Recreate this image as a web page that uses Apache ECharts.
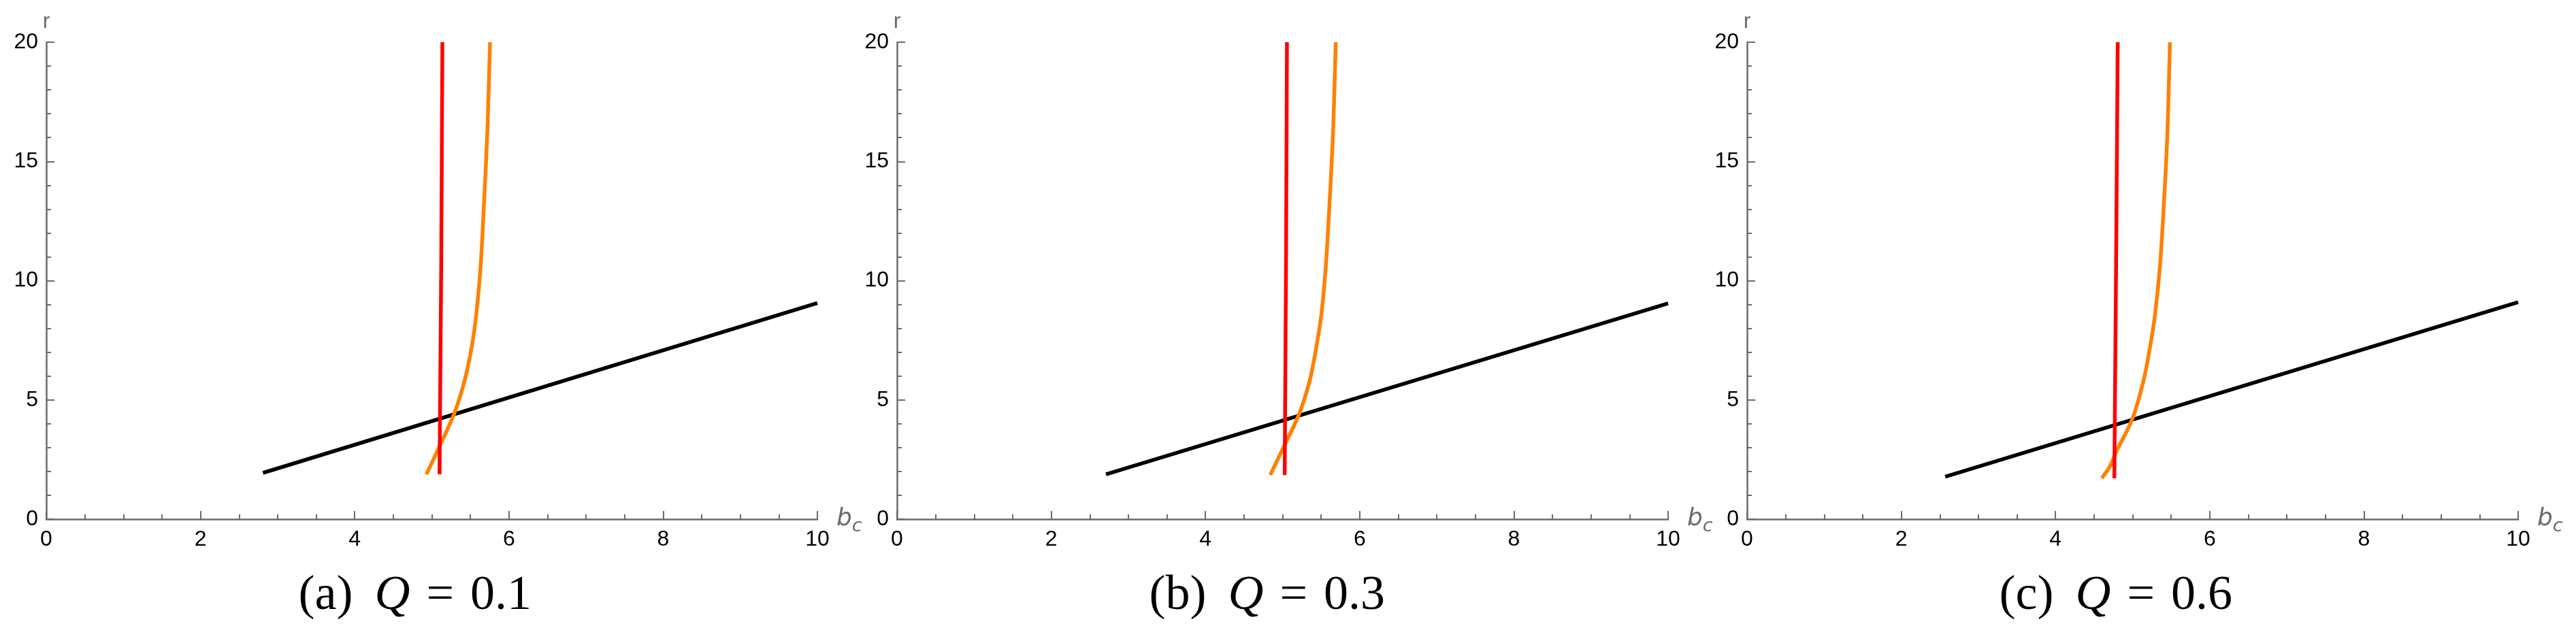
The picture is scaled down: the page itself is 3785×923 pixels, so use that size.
<!DOCTYPE html>
<html>
<head>
<meta charset="utf-8">
<script src="https://cdn.jsdelivr.net/npm/echarts@6/dist/echarts.min.js"></script>
<style>
html,body{margin:0;padding:0;background:#fff;}
#chart{width:3785px;height:923px;}
</style>
</head>
<body>
<div id="chart"></div>
<script>
// ---- data ----
const panelTags = ['(a)', '(b)', '(c)'];
const qValues = ['0.1', '0.3', '0.6'];
const xTickLabels = ['0', '2', '4', '6', '8', '10'];
const yTickLabels = ['0', '5', '10', '15', '20'];

// black curve (b_c, r)
const blackB_a = [2.81, 10.0];
const blackR_a = [1.94, 9.06];
const blackB_b = [2.71, 10.0];
const blackR_b = [1.88, 9.05];
const blackB_c = [2.57, 10.0];
const blackR_c = [1.78, 9.10];

// red curve
const redB_a = [5.10, 5.122, 5.137];
const redR_a = [1.88, 10.7, 20];
const redB_b = [5.028, 5.045, 5.057];
const redR_b = [1.85, 10.7, 20];
const redB_c = [4.763, 4.786, 4.807];
const redR_c = [1.71, 10.7, 20];

// orange curve
const orangeB_a = [4.93, 5.107, 5.225, 5.313, 5.43, 5.519, 5.578, 5.635, 5.68, 5.72, 5.755];
const orangeR_a = [1.88, 3.10, 3.93, 4.62, 5.87, 7.25, 8.63, 10.70, 13.47, 16.24, 20];
const orangeB_b = [4.84, 5.025, 5.15, 5.24, 5.357, 5.44, 5.505, 5.563, 5.613, 5.655, 5.69];
const orangeR_b = [1.85, 3.10, 3.93, 4.62, 5.87, 7.25, 8.63, 10.70, 13.47, 16.24, 20];
const orangeB_c = [4.60, 4.704, 4.807, 4.94, 5.028, 5.146, 5.228, 5.293, 5.357, 5.41, 5.452, 5.484];
const orangeR_c = [1.72, 2.20, 2.96, 3.79, 4.48, 5.87, 7.25, 8.63, 10.70, 13.47, 16.24, 20];

// ---- build ----
const zip = (xs, ys) => xs.map((x, i) => [x, ys[i]]);
const panels = [
  {black: zip(blackB_a, blackR_a), red: zip(redB_a, redR_a), orange: zip(orangeB_a, orangeR_a)},
  {black: zip(blackB_b, blackR_b), red: zip(redB_b, redR_b), orange: zip(orangeB_b, orangeR_b)},
  {black: zip(blackB_c, blackR_c), red: zip(redB_c, redR_c), orange: zip(orangeB_c, orangeR_c)}
];

const gridLefts = [68, 1318, 2567];
const gridW = 1133, gridTop = 62, gridH = 701;
const axisGrey = '#6b6b6b';
const tickFont = 'Liberation Sans';

const grids = [], xAxes = [], yAxes = [], series = [], graphics = [];
panels.forEach((p, i) => {
  grids.push({left: gridLefts[i], top: gridTop, width: gridW, height: gridH});
  xAxes.push({
    gridIndex: i, type: 'value', min: 0, max: 10, interval: 2,
    name: '{b|b}{c|c}', nameLocation: 'end', nameGap: 28,
    nameTextStyle: {
      rich: {
        b: {fontFamily: 'DejaVu Sans', fontStyle: 'italic', fontSize: 36, color: axisGrey},
        c: {fontFamily: 'DejaVu Sans', fontStyle: 'italic', fontSize: 27, color: axisGrey, padding: [22, 0, 0, 0]}
      }
    },
    axisLine: {lineStyle: {color: axisGrey, width: 2.5}},
    axisTick: {inside: true, length: 12, lineStyle: {color: axisGrey, width: 2}},
    minorTick: {show: true, splitNumber: 4, length: 7, lineStyle: {color: axisGrey, width: 2}},
    axisLabel: {color: '#000', fontSize: 32, fontFamily: tickFont, margin: 14,
      formatter: v => xTickLabels[Math.round(v / 2)]},
    splitLine: {show: false}
  });
  yAxes.push({
    gridIndex: i, type: 'value', min: 0, max: 20, interval: 5,
    name: 'r', nameLocation: 'end', nameGap: 14,
    nameTextStyle: {color: axisGrey, fontSize: 32, fontFamily: tickFont, align: 'center'},
    axisLine: {lineStyle: {color: axisGrey, width: 2.5}},
    axisTick: {inside: true, length: 12, lineStyle: {color: axisGrey, width: 2}},
    minorTick: {show: true, splitNumber: 5, length: 7, lineStyle: {color: axisGrey, width: 2}},
    axisLabel: {color: '#000', fontSize: 32, fontFamily: tickFont, margin: 12,
      formatter: v => yTickLabels[Math.round(v / 5)]},
    splitLine: {show: false}
  });
  series.push({type: 'line', xAxisIndex: i, yAxisIndex: i, data: p.black, showSymbol: false,
    lineStyle: {color: '#000', width: 5.5}, z: 2});
  series.push({type: 'line', xAxisIndex: i, yAxisIndex: i, data: p.orange, showSymbol: false,
    smooth: 0.3,
    lineStyle: {color: '#ff8000', width: 5.5}, z: 3});
  series.push({type: 'line', xAxisIndex: i, yAxisIndex: i, data: p.red, showSymbol: false,
    lineStyle: {color: '#ff0000', width: 5.5}, z: 4});
  graphics.push({
    type: 'text', left: gridLefts[i] + gridW / 2 - 25 - 171, top: 840,
    style: {
      text: '{n|' + panelTags[i] + '}{q|Q}{e|=}{e|' + qValues[i] + '}',
      rich: {
        n: {fontFamily: 'Liberation Serif', fontSize: 72, fill: '#000'},
        q: {fontFamily: 'Liberation Serif', fontStyle: 'italic', fontSize: 72, fill: '#000', padding: [0, 0, 0, 32]},
        e: {fontFamily: 'Liberation Serif', fontSize: 72, fill: '#000', padding: [0, 0, 0, 24]}
      }
    }
  });
});

const chart = echarts.init(document.getElementById('chart'), null, {renderer: 'canvas'});
chart.setOption({
  backgroundColor: '#fff',
  animation: false,
  grid: grids, xAxis: xAxes, yAxis: yAxes, series: series, graphic: graphics
});
</script>
</body>
</html>
